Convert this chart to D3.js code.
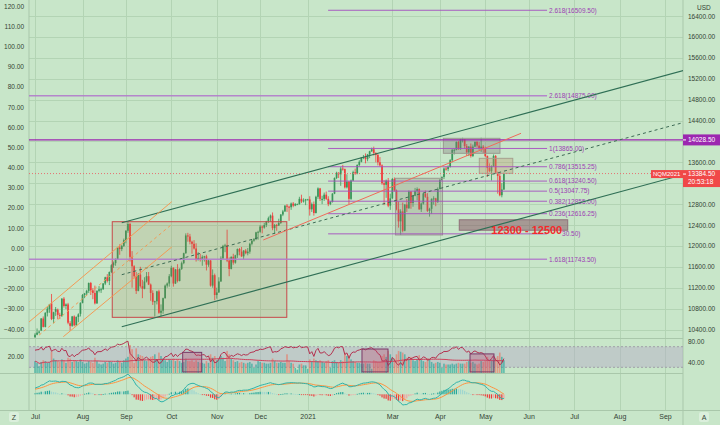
<!DOCTYPE html>
<html><head><meta charset="utf-8">
<script src="https://cdn.jsdelivr.net/npm/d3@7"></script>
<style>
body{margin:0;background:#c8e6c9;}
svg{display:block}
text{font-family:"Liberation Sans",Arial,sans-serif}
</style></head>
<body><svg id="c" width="720" height="425"></svg>
<script>
// ---------------- DATA ----------------
const firstDay = "2020-07-01";
const lastDay = "2021-09-30";
// daily OHLC, one row per weekday from 2020-07-01 to 2021-05-14
const ohlc = [
// Jul 2020
[10250,10330,10245,10300],[10300,10420,10290,10340],[10340,10380,10320,10360],[10380,10620,10370,10610],[10610,10650,10440,10450],
[10450,10730,10440,10720],[10720,10830,10650,10800],[10790,10890,10720,10880],[10900,11080,10580,10600],[10600,10740,10520,10730],
[10740,10830,10660,10790],[10780,10800,10600,10680],[10680,10720,10600,10660],[10660,11000,10640,10990],[10990,11020,10820,10850],
[10850,10900,10790,10880],[10880,10910,10500,10530],[10520,10560,10380,10470],[10470,10660,10450,10650],[10650,10670,10460,10480],
[10480,10650,10470,10640],[10640,10710,10540,10690],[10700,10920,10650,10910],
// Aug
[10910,11080,10900,11060],[11060,11100,11000,11090],[11090,11160,11060,11140],[11140,11300,11100,11290],[11290,11310,11060,11150],
[11150,11190,10980,11100],[11100,11240,10880,10900],[10900,11150,10890,11140],[11140,11230,11110,11170],[11170,11200,11100,11170],
[11170,11290,11160,11280],[11280,11410,11250,11400],[11400,11460,11300,11330],[11330,11510,11250,11500],[11500,11650,11480,11630],
[11630,11700,11580,11670],[11670,11760,11620,11750],[11750,11980,11740,11970],[11970,12030,11830,11940],[11940,12020,11900,12000],
[12000,12140,11980,12110],
// Sep
[12110,12300,12050,12290],[12290,12465,12250,12420],[12420,12440,11700,11790],[11790,11900,11200,11610],[11610,11630,11380,11420],
[11420,11500,11080,11140],[11140,11480,11130,11450],[11450,11600,11200,11230],[11230,11350,11000,11180],[11180,11400,11170,11320],
[11320,11500,11300,11420],[11420,11500,11250,11260],[11260,11280,10950,11100],[11100,11150,10870,10930],[10930,10950,10650,10940],
[10940,11140,10880,11130],[11130,11160,10700,10720],[10720,10880,10650,10760],[10760,11010,10700,11000],[11000,11260,10990,11240],
[11240,11300,11200,11280],[11280,11460,11220,11420],
// Oct
[11420,11620,11400,11580],[11580,11590,11220,11280],[11280,11560,11270,11550],[11550,11650,11300,11330],[11330,11570,11320,11560],
[11560,11700,11540,11670],[11670,11870,11650,11860],[11860,12240,11850,12200],[12200,12250,12080,12180],[12180,12230,12030,12080],
[12080,12100,11850,12040],[12040,12110,11930,11950],[11950,12050,11700,11730],[11730,11880,11720,11770],[11770,11850,11700,11740],
[11740,11820,11620,11790],[11790,11810,11700,11800],[11800,11830,11530,11640],[11640,11740,11600,11720],[11720,11730,11220,11240],
[11240,11550,11200,11440],[11440,11470,10960,11060],
// Nov
[11060,11200,10990,11110],[11110,11400,11100,11320],[11320,11800,11310,11760],[11760,12020,11750,12000],[12000,12040,11880,12010],
[12010,12310,11690,11720],[11720,11780,11420,11560],[11560,11800,11550,11790],[11790,11850,11640,11680],[11680,11830,11660,11820],
[11820,11950,11770,11940],[11940,11960,11820,11890],[11890,11980,11790,11800],[11800,11920,11740,11910],[11910,11940,11840,11860],
[11860,11960,11820,11890],[11890,12060,11850,12040],[12040,12120,12010,12100],[12100,12150,12080,12130],[12130,12270,12110,12260],
[12260,12290,12120,12270],
// Dec
[12270,12400,12250,12370],[12370,12390,12240,12350],[12350,12440,12330,12400],[12400,12480,12360,12470],[12470,12560,12440,12530],
[12530,12600,12460,12580],[12580,12640,12300,12340],[12340,12420,12230,12400],[12400,12420,12290,12390],[12390,12520,12380,12440],
[12440,12610,12420,12600],[12600,12690,12570,12660],[12660,12780,12650,12770],[12770,12800,12650,12750],[12750,12770,12480,12740],
[12740,12830,12690,12810],[12810,12840,12740,12770],[12770,12820,12760,12800],[12800,12810,12790,12800],[12800,12940,12790,12900],
[12900,12980,12820,12850],[12850,12910,12830,12870],[12870,12900,12780,12890],
// Jan 2021
[12890,12900,12880,12890],[12890,12950,12580,12700],[12700,12830,12650,12800],[12800,12850,12580,12630],[12630,12960,12620,12940],
[12940,13120,12900,13100],[13100,13110,12860,12900],[12900,12960,12800,12900],[12900,13020,12860,12980],[12980,13040,12880,12900],
[12900,12950,12760,12800],[12800,12860,12780,12840],[12840,13010,12830,13000],[13000,13310,12990,13300],[13300,13420,13280,13400],
[13400,13410,13300,13370],[13370,13510,13150,13480],[13480,13550,13440,13470],[13470,13480,13100,13120],[13120,13370,13100,13230],
[13230,13240,12800,12900],
// Feb
[12900,13270,12880,13250],[13250,13440,13240,13410],[13410,13480,13360,13390],[13390,13560,13370,13550],[13550,13640,13520,13610],
[13610,13700,13600,13690],[13690,13740,13660,13700],[13700,13770,13580,13660],[13660,13760,13620,13750],[13750,13820,13680,13810],
[13810,13880,13800,13850],[13850,13900,13730,13780],[13780,13790,13600,13740],[13740,13760,13540,13600],[13600,13700,13520,13540],
[13540,13560,13170,13200],[13200,13260,12780,13170],[13170,13270,12920,13250],[13250,13300,12740,12770],[12770,13000,12690,12910],
// Mar
[12910,13300,12900,13280],[13280,13310,13040,13060],[13060,13080,12680,12700],[12700,12850,12350,12470],[12470,12700,12210,12660],
[12660,12830,12260,12290],[12290,12800,12280,12790],[12790,12900,12650,12720],[12720,13060,12710,13040],[13040,13050,12710,12820],
[12820,12970,12750,12960],[12960,13110,12950,13050],[13050,13120,12870,13090],[13090,13100,12690,12700],[12700,12830,12650,12810],
[12810,13010,12790,13000],[13000,13060,12920,12940],[12940,13010,12650,12670],[12670,12730,12560,12710],[12710,12910,12610,12900],
[12900,12950,12790,12910],[12910,12920,12760,12840],[12840,13120,12820,13090],
// Apr
[13090,13280,13080,13260],[13260,13330,13250,13320],[13320,13500,13280,13480],[13480,13520,13440,13470],[13470,13540,13430,13510],
[13510,13660,13500,13640],[13640,13850,13600,13840],[13840,13860,13750,13840],[13840,14000,13830,13990],[13990,14010,13840,13850],
[13850,14050,13840,14040],[14040,14070,13980,14040],[14040,14040,13860,13910],[13910,13950,13720,13790],[13790,13910,13720,13900],
[13900,13960,13690,13720],[13720,13940,13700,13900],[13900,14000,13890,13990],[13990,14010,13880,13920],[13920,13990,13840,13870],
[13870,14070,13800,13900],[13900,13930,13780,13860],
// May
[13860,13900,13700,13720],[13720,13730,13320,13490],[13490,13580,13410,13430],[13430,13540,13250,13530],[13530,13750,13510,13720],
[13720,13740,13380,13400],[13400,13420,13000,13340],[13340,13390,12950,12970],[12970,13200,12930,13080],[13080,13400,13070,13384.5]
];
const volume = [
14,12,8,13,15,14,12,13,25,17,15,14,13,16,15,12,18,17,13,15,14,13,16,
13,11,12,14,13,12,18,14,11,10,11,13,12,14,13,11,12,15,14,12,15,
17,19,33,28,12,29,22,21,20,15,14,17,19,20,22,16,24,20,17,15,13,16,
15,17,14,16,14,12,13,17,14,14,15,13,15,13,12,12,11,14,12,22,18,20,
15,16,20,18,14,26,22,17,15,13,14,12,13,12,11,12,13,11,6,10,14,
13,12,12,11,11,12,17,14,12,12,13,12,12,22,14,12,11,6,4,10,11,9,9,
5,16,14,17,15,14,15,13,12,14,15,6,14,15,13,12,15,14,24,20,21,
16,14,13,12,12,11,11,12,11,11,5,15,14,13,13,20,22,19,26,22,
18,17,22,26,25,24,22,18,17,19,15,14,16,21,16,14,13,17,16,13,11,12,13,
12,6,11,10,10,10,11,10,11,12,11,11,11,13,14,12,13,11,10,11,14,13,
14,19,15,16,14,18,20,24,19,15
];
// June 2020 closes, used only to warm up the indicators
const warmupCloses = [9600,9650,9700,9610,9820,9920,10000,10120,9590,9690,9780,9930,9980,10010,9960,10110,10170,9960,10070,9830,9960,10160];

const priceTicks = d3.range(10400, 16401, 400);
const leftTicks = d3.range(-40, 121, 10);
const monthDates = ["2020-07-01","2020-08-03","2020-09-01","2020-10-01","2020-11-02","2020-12-01","2021-01-01","2021-03-01","2021-04-01","2021-05-03","2021-06-01","2021-07-01","2021-08-02","2021-09-01"];
const monthLabels = ["Jul","Aug","Sep","Oct","Nov","Dec","2021","Mar","Apr","May","Jun","Jul","Aug","Sep"];

// drawings: [barIndex, price]
const greenUpper = [[42,12444],[320,15421]];
const greenMid   = [[42,11449],[320,14426]];
const greenLower = [[42,10453],[320,13430]];
const orangeUpper = [[-3,10540],[66.2,12846]];
const orangeMid   = [[2,10293],[66.2,12412]];
const orangeLower = [[13.7,10262],[66.2,11979]];
const salmonLine  = [[110.5,12113],[235.3,14155]];
const bigBox  = [37.4,121.9,12463,10633];
const marBox  = [174.5,197.3,13294,12209];
const aprBox  = [197.7,225.1,14059,13772];
const mayBox  = [215.1,231.3,13676,13389];
const zoneBox = [205.4,257.9,12500,12300];
const zoneText = "12300 - 12500";
const fibRatios = ["2.618","2.618","1","0.786","0.618","0.5","0.382","0.236","0","1.618"];
const fibPrices = [16509.5,14875.0,13865.0,13515.25,13240.5,13047.75,12855.0,12616.25,12230.5,11743.5];
const fibExtendLeft = [false,true,false,false,false,false,false,false,false,true];
const fibSpan = [141.9,247.9];
const resistance = 14028.5;
const rsiBoxes = [[71.5,80.7,59,21],[158.3,170.9,65.5,21],[210.6,222.2,56,21]];
const symbol = "NQM2021", countdown = "20:53:18";

// ---------------- SETUP ----------------
const parse = d3.timeParse("%Y-%m-%d");
const tradingDays = d3.timeDay.range(parse(firstDay), d3.timeDay.offset(parse(lastDay),1))
  .filter(d => d.getDay() !== 0 && d.getDay() !== 6);
const idxOf = s => d3.bisectLeft(tradingDays, parse(s));
const monthIdx = monthDates.map(idxOf);

const L = 29, R = 683;
const x = d3.scaleLinear().domain([0, idxOf("2021-09-01")]).range([35, 665]);
const yP = d3.scaleLinear().domain([10400,16400]).range([329.5,16]);
const yL = d3.scaleLinear().domain([-40,120]).range([329,6]);
const yRSI = d3.scaleLinear().domain([30,70]).range([367.3,346.7]);
const yVol = d3.scaleLinear().domain([0,20]).range([373,356]);
const yMACD = d3.scaleLinear().domain([0,400]).range([394.3,373]);

const svg = d3.select("#c");
const defs = svg.append("defs");
function clip(id, y0, y1){ defs.append("clipPath").attr("id",id).append("rect").attr("x",L).attr("y",y0).attr("width",R-L).attr("height",y1-y0); }
clip("cm",0,338); clip("cv",338,373); clip("cd",373,410);
defs.append("clipPath").attr("id","cax").append("rect").attr("x",R).attr("y",372).attr("width",40).attr("height",40);

svg.append("rect").attr("width",720).attr("height",425).attr("fill","#c8e6c9");

// grid
const grid = svg.append("g").attr("stroke","#b3d4b4").attr("stroke-width",1);
grid.selectAll(".v").data(monthIdx).join("line").attr("x1",d=>Math.round(x(d))+0.5).attr("x2",d=>Math.round(x(d))+0.5).attr("y1",0).attr("y2",410);
grid.selectAll(".h").data(priceTicks).join("line").attr("x1",L).attr("x2",R).attr("y1",d=>Math.round(yP(d))+0.5).attr("y2",d=>Math.round(yP(d))+0.5);
// separators
const sep = svg.append("g").attr("stroke","#a9c7aa");
[[L,0,L,410],[R,0,R,425],[0,338.5,R,338.5],[0,373.5,R,373.5],[0,410.5,720,410.5]].forEach(s=>sep.append("line").attr("x1",s[0]).attr("y1",s[1]).attr("x2",s[2]).attr("y2",s[3]));

// ---------------- MAIN PANE ----------------
const main = svg.append("g").attr("clip-path","url(#cm)");
const up = "#3a955a", dn = "#f03c3c";

// candles
const cg = main.append("g");
cg.selectAll("line").data(ohlc).join("line")
  .attr("x1",(d,i)=>x(i)).attr("x2",(d,i)=>x(i))
  .attr("y1",d=>yP(d[1])).attr("y2",d=>yP(d[2]))
  .attr("stroke",d=>d[3]>=d[0]?up:dn).attr("stroke-width",0.8);
cg.selectAll("rect").data(ohlc).join("rect")
  .attr("x",(d,i)=>x(i)-0.85).attr("width",1.7)
  .attr("y",d=>yP(Math.max(d[0],d[3])))
  .attr("height",d=>Math.max(1,yP(Math.min(d[0],d[3]))-yP(Math.max(d[0],d[3]))))
  .attr("fill",d=>d[3]>=d[0]?up:dn);

function box(b, fill, stroke){
  main.append("rect").attr("x",x(b[0])).attr("width",x(b[1])-x(b[0]))
    .attr("y",yP(b[2])).attr("height",yP(b[3])-yP(b[2]))
    .attr("fill",fill).attr("stroke",stroke).attr("stroke-width",1);
}
box(bigBox,"rgba(160,120,70,0.17)","#c8484a");
box(marBox,"rgba(140,130,115,0.28)","#9a9a90");
box(aprBox,"rgba(125,120,120,0.35)","#9a9a90");
box(mayBox,"rgba(190,150,110,0.35)","#a8a090");
box(zoneBox,"rgba(125,60,85,0.45)","#8f6f7a");

// price line (current)
const last = ohlc[ohlc.length-1][3];
main.append("line").attr("x1",L).attr("x2",R).attr("y1",yP(last)).attr("y2",yP(last))
  .attr("stroke","#e57373").attr("stroke-dasharray","1,2").attr("stroke-width",1);

// fib
const fg = main.append("g");
fibPrices.forEach((p,i)=>{
  const y = yP(p);
  fg.append("line").attr("x1",fibExtendLeft[i]?L:x(fibSpan[0])).attr("x2",x(fibSpan[1]))
    .attr("y1",y).attr("y2",y).attr("stroke", fibExtendLeft[i] ? "#b27ccc" : "#a650c0")
    .attr("stroke-width",fibExtendLeft[i]?1.6:1).attr("opacity",0.9);
  if (fibRatios[i] === "0") {
    // this label sits behind the 12300 - 12500 note; only its tail shows
    fg.append("text").attr("x",x(fibSpan[1])+15).attr("y",y).attr("dy","0.35em")
      .attr("font-size",6.5).attr("fill","#9c40b4").text(p.toFixed(2).slice(3) + ")");
  } else {
    fg.append("text").attr("x",x(fibSpan[1])+2).attr("y",y).attr("dy","0.35em")
      .attr("font-size",6.5).attr("fill","#9c40b4").text(`${fibRatios[i]}(${p.toFixed(2)})`);
  }
});
// resistance line
main.append("line").attr("x1",L).attr("x2",R).attr("y1",yP(resistance)).attr("y2",yP(resistance))
  .attr("stroke","#9c27b0").attr("stroke-width",1.3);

const line = d3.line().x(d=>x(d[0])).y(d=>yP(d[1]));
function seg(pts, color, dash, w){
  main.append("path").attr("d",line(pts)).attr("fill","none").attr("stroke",color)
    .attr("stroke-width",w||1).attr("stroke-dasharray",dash||null);
}
seg(greenUpper,"#2f6f55",null,1.1);
seg(greenLower,"#2f6f55",null,1.1);
seg(greenMid,"#3d6b55","3,3",1);
seg(orangeUpper,"#f39a55",null,1);
seg(orangeLower,"#f39a55",null,1);
seg(orangeMid,"#f39a55","3,3",1);
seg(salmonLine,"#f06a5a",null,1);

main.append("text").attr("x",x(zoneBox[0])+x(15.5)-x(0)).attr("y",yP(12227))
  .attr("font-size",11).attr("font-weight",600).attr("fill","#f42a2a").text(zoneText);

// ---------------- INDICATORS ----------------
const W0 = warmupCloses.length;
const closesAll = warmupCloses.concat(ohlc.map(d=>d[3]));
function ema(arr,n){ const k=2/(n+1); let e=arr[0]; return arr.map((v,i)=> (e = i ? v*k + e*(1-k) : v)); }
const e12 = ema(closesAll,12), e26 = ema(closesAll,26);
const macdAll = e12.map((v,i)=>v-e26[i]);
const sigAll = ema(macdAll,9);
const rsiAll = [null]; let ag=0, al=0;
for(let i=1;i<closesAll.length;i++){
  const ch = closesAll[i]-closesAll[i-1], g=Math.max(ch,0), l=Math.max(-ch,0);
  if(i<=14){ ag+=g/14; al+=l/14; } else { ag=(ag*13+g)/14; al=(al*13+l)/14; }
  rsiAll.push(i>=14 ? 100-100/(1+ag/(al||1e-9)) : null);
}
const rsi = rsiAll.slice(W0), macd = macdAll.slice(W0), sig = sigAll.slice(W0);
const hist = macd.map((v,i)=>v-sig[i]);
const volMA = volume.map((v,i)=>d3.mean(volume.slice(Math.max(0,i-49),i+1)));

// pane 2
const p2 = svg.append("g").attr("clip-path","url(#cv)");
p2.append("rect").attr("x",L).attr("width",R-L).attr("y",yRSI(70)).attr("height",yRSI(30)-yRSI(70))
  .attr("fill","rgba(180,170,200,0.45)");
[70,30].forEach(v=>p2.append("line").attr("x1",L).attr("x2",R).attr("y1",yRSI(v)).attr("y2",yRSI(v))
  .attr("stroke","#a0a0a8").attr("stroke-dasharray","2,2"));
p2.selectAll(".vb").data(volume).join("rect")
  .attr("x",(d,i)=>x(i)-0.8).attr("width",1.6)
  .attr("y",d=>yVol(d)).attr("height",d=>yVol(0)-yVol(d))
  .attr("fill",(d,i)=>ohlc[i][3]>=ohlc[i][0]?"rgba(38,166,154,0.65)":"rgba(239,110,90,0.6)");
p2.append("path").attr("d",d3.line().x((d,i)=>x(i)).y(d=>yVol(d))(volMA))
  .attr("fill","none").attr("stroke","#d0405a").attr("stroke-width",1);
p2.append("path").attr("d",d3.line().defined(d=>d!=null).x((d,i)=>x(i)).y(d=>yRSI(d))(rsi))
  .attr("fill","none").attr("stroke","#b4304e").attr("stroke-width",1);
rsiBoxes.forEach(b=>p2.append("rect").attr("x",x(b[0])).attr("width",x(b[1])-x(b[0]))
  .attr("y",yRSI(b[2])).attr("height",yRSI(b[3])-yRSI(b[2]))
  .attr("fill","rgba(190,80,120,0.35)").attr("stroke","#7a3a68"));

// pane 3
const p3 = svg.append("g").attr("clip-path","url(#cd)");
p3.selectAll(".hb").data(hist).join("rect")
  .attr("x",(d,i)=>x(i)-0.6).attr("width",1.2)
  .attr("y",d=>Math.min(yMACD(d),yMACD(0))).attr("height",d=>Math.max(0.8,Math.abs(yMACD(d)-yMACD(0))))
  .attr("fill",(d,i)=>{ const pr = i?hist[i-1]:d;
    return d>=0 ? (d>=pr?"#26a69a":"#9fd6cf") : (d<pr?"#ef3b3b":"#f5a0a0"); });
p3.append("path").attr("d",d3.line().x((d,i)=>x(i)).y(d=>yMACD(d))(sig))
  .attr("fill","none").attr("stroke","#ff9340").attr("stroke-width",1);
p3.append("path").attr("d",d3.line().x((d,i)=>x(i)).y(d=>yMACD(d))(macd))
  .attr("fill","none").attr("stroke","#2fb3aa").attr("stroke-width",1);

// ---------------- AXES ----------------
const txt = "#344334";
const yr = yP(resistance), yc = yP(last);
// axis labels that sit under the price tags are hidden, as on the reference
const shownPriceTicks = priceTicks.filter(p => Math.abs(yP(p)-yr) > 7 && !(yP(p) > yc-7 && yP(p) < yc+17));
function styleAxis(g, fs){ g.select(".domain").remove(); g.selectAll("text").attr("font-size",fs).attr("fill",txt).attr("font-family","'Liberation Sans',Arial,sans-serif"); }
svg.append("g").attr("transform",`translate(${R},0)`)
  .call(d3.axisRight(yP).tickValues(shownPriceTicks).tickSize(0).tickPadding(5).tickFormat(d3.format(".2f")))
  .call(g=>styleAxis(g,6.5));
svg.append("g").attr("transform",`translate(${L},0)`)
  .call(d3.axisLeft(yL).tickValues(leftTicks).tickSize(0).tickPadding(5).tickFormat(d3.format(".2f")))
  .call(g=>styleAxis(g,6.5));
svg.append("g").attr("transform",`translate(${R},0)`)
  .call(d3.axisRight(yRSI).tickValues([80,40]).tickSize(0).tickPadding(5).tickFormat(d3.format(".2f")))
  .call(g=>styleAxis(g,6.5));
svg.append("g").attr("transform",`translate(${R},0)`).attr("clip-path","url(#cax)")
  .call(d3.axisRight(yMACD).tickValues([400,0]).tickSize(0).tickPadding(5).tickFormat(d3.format(".2f")))
  .call(g=>styleAxis(g,6.5));
svg.append("g").attr("transform",`translate(${L},0)`)
  .call(d3.axisLeft(yVol).tickValues([20]).tickSize(0).tickPadding(5).tickFormat(d3.format(".2f")))
  .call(g=>styleAxis(g,6.5));
svg.append("g").attr("transform","translate(0,410)")
  .call(d3.axisBottom(x).tickValues(monthIdx).tickSize(0).tickPadding(4).tickFormat((d,i)=>monthLabels[i]))
  .call(g=>styleAxis(g,7));
svg.append("text").attr("x",697).attr("y",10).attr("font-size",6.5).attr("fill",txt).text("USD");

// buttons
[[14,"Z"],[704,"A"]].forEach(b=>{
  svg.append("rect").attr("x",b[0]-5).attr("y",412).attr("width",10).attr("height",10).attr("rx",2).attr("fill","rgba(255,255,255,0.35)");
  svg.append("text").attr("x",b[0]).attr("y",419.5).attr("text-anchor","middle").attr("font-size",7).attr("fill",txt).text(b[1]);
});

// price labels
svg.append("rect").attr("x",R).attr("y",yr-5.5).attr("width",37).attr("height",11).attr("fill","#9c27b0");
svg.append("line").attr("x1",R).attr("x2",R+3).attr("y1",yr).attr("y2",yr).attr("stroke","#fff");
svg.append("text").attr("x",R+5).attr("y",yr).attr("dy","0.35em").attr("font-size",6.5).attr("fill","#fff").text(resistance.toFixed(2));
svg.append("rect").attr("x",651).attr("y",yc-3.5).attr("width",R-651).attr("height",8).attr("fill","#f04848");
svg.append("text").attr("x",653).attr("y",yc+0.5).attr("dy","0.35em").attr("font-size",6).attr("fill","#fff").text(symbol);
svg.append("rect").attr("x",R).attr("y",yc-3.5).attr("width",37).attr("height",17).attr("fill","#f04848");
svg.append("line").attr("x1",R).attr("x2",R+3).attr("y1",yc+0.5).attr("y2",yc+0.5).attr("stroke","#fff");
svg.append("text").attr("x",R+5).attr("y",yc+0.5).attr("dy","0.35em").attr("font-size",6.5).attr("fill","#fff").text(last.toFixed(2));
svg.append("text").attr("x",R+5).attr("y",yc+8.5).attr("dy","0.35em").attr("font-size",6.5).attr("fill","#fff").text(countdown);
</script></body></html>
